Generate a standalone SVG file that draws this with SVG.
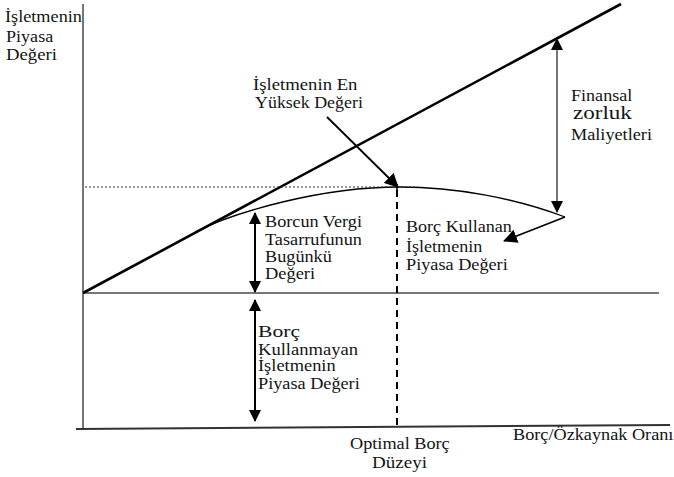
<svg xmlns="http://www.w3.org/2000/svg" width="674" height="477" viewBox="0 0 674 477">
<style>
.ax{stroke:#777;stroke-width:2;fill:none}
.blk{stroke:#000;fill:none}
.arr{stroke:#000;stroke-width:2;fill:none;marker-start:url(#ah);marker-end:url(#ah)}
</style>
<defs>
<marker id="ah" viewBox="0 0 12 12" refX="11" refY="6" markerWidth="12" markerHeight="12" markerUnits="userSpaceOnUse" orient="auto-start-reverse"><path d="M0,0 L12,6 L0,12 z" fill="#000"/></marker>
<marker id="ah1" viewBox="0 0 14 14" refX="13" refY="7" markerWidth="14" markerHeight="14" markerUnits="userSpaceOnUse" orient="auto"><path d="M0,0 L14,7 L0,14 z" fill="#000"/></marker>
</defs>
<rect width="674" height="477" fill="#fff"/>
<g id="axes">
<line class="ax" x1="83" y1="4" x2="83" y2="430"/>
<line class="ax" x1="83" y1="293" x2="659" y2="293"/>
<line x1="76" y1="429" x2="670" y2="425" stroke="#333" stroke-width="2"/>
</g>
<g id="connectors">
<line class="blk" x1="83" y1="293" x2="621" y2="4" stroke-width="2.6"/>
<path class="blk" stroke-width="1.3" d="M195,232 C235,212 320,187 400,187 C455,187 515,198 565,217"/>
<line x1="85" y1="187" x2="418" y2="187" stroke="#333" stroke-width="1.2" stroke-dasharray="2,2"/>
<line x1="397" y1="190" x2="397" y2="426" stroke="#000" stroke-width="2" stroke-dasharray="7,5"/>
<line x1="397" y1="184" x2="397" y2="192" stroke="#000" stroke-width="1.5"/>
<line x1="557" y1="39" x2="557" y2="212" stroke="#777" stroke-width="2" marker-start="url(#ah)" marker-end="url(#ah)"/>
<line class="arr" x1="255" y1="213" x2="255" y2="292"/>
<line class="arr" x1="255" y1="300" x2="255" y2="421"/>
<polyline class="blk" stroke-width="1.5" points="565,217 504,241" marker-end="url(#ah1)"/>
<line class="blk" stroke-width="1.8" x1="327" y1="117" x2="398" y2="187" marker-end="url(#ah1)"/>
</g>
<g id="labels" font-family="Liberation Serif, Times New Roman, serif" font-size="16" fill="#141414">
<g id="y-label">
<text transform="translate(5,22) scale(1.14,1)">İşletmenin</text>
<text transform="translate(6,42) scale(1.13,1)">Piyasa</text>
<text transform="translate(6,60) scale(1.17,1)">Değeri</text>
</g>
<g id="max-value">
<text transform="translate(253,90) scale(1.17,1)">İşletmenin En</text>
<text transform="translate(255,108) scale(1.12,1)">Yüksek Değeri</text>
</g>
<g id="distress-costs">
<text transform="translate(571,101) scale(1.13,1)">Finansal</text>
<text transform="translate(573,119) scale(1.28,1)" font-size="18">zorluk</text>
<text transform="translate(571,140) scale(1.14,1)">Maliyetleri</text>
</g>
<g id="tax-shield">
<text transform="translate(265,227) scale(1.14,1)">Borcun Vergi</text>
<text transform="translate(265,245) scale(1.14,1)">Tasarrufunun</text>
<text transform="translate(265,262) scale(1.14,1)">Bugünkü</text>
<text transform="translate(265,279) scale(1.15,1)">Değeri</text>
</g>
<g id="levered-value">
<text transform="translate(406,232) scale(1.13,1)">Borç Kullanan</text>
<text transform="translate(406,252) scale(1.13,1)">İşletmenin</text>
<text transform="translate(406,270) scale(1.14,1)">Piyasa Değeri</text>
</g>
<g id="unlevered-value">
<text transform="translate(258,337) scale(1.35,1)">Borç</text>
<text transform="translate(258,355) scale(1.16,1)">Kullanmayan</text>
<text transform="translate(258,371) scale(1.15,1)">İşletmenin</text>
<text transform="translate(258,389) scale(1.14,1)">Piyasa Değeri</text>
</g>
<g id="optimal">
<text transform="translate(350,449) scale(1.14,1)">Optimal Borç</text>
<text transform="translate(372,468) scale(1.19,1)">Düzeyi</text>
</g>
<g id="x-label">
<text transform="translate(513,440) scale(1.14,1)">Borç/Özkaynak Oranı</text>
</g>
</g>
</svg>
